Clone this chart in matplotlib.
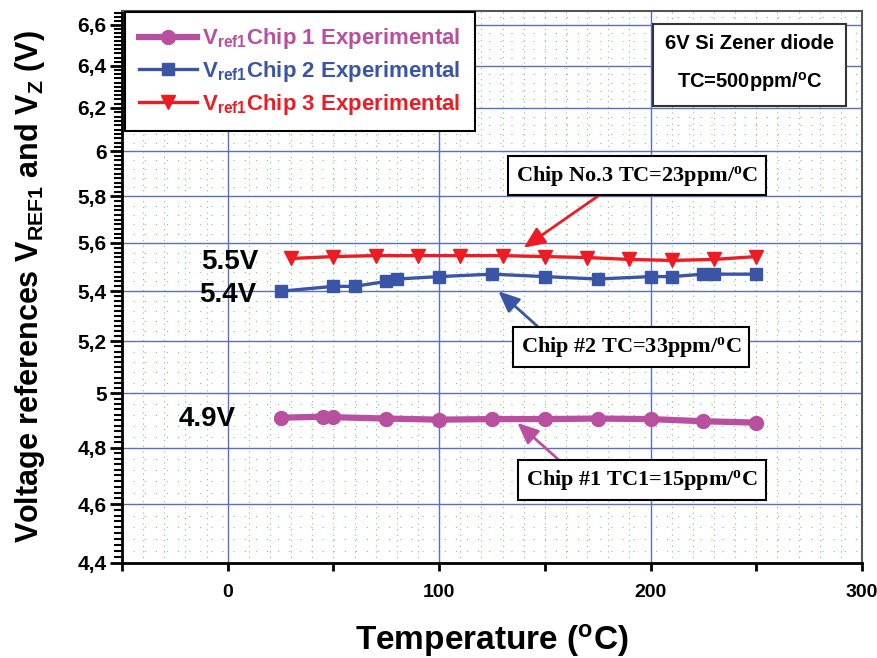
import numpy as np
import matplotlib
matplotlib.use('Agg')
import matplotlib.pyplot as plt
from matplotlib import font_manager
from matplotlib.ticker import FixedLocator, FuncFormatter, NullFormatter, MultipleLocator

# data
t_chip1 = [25, 45, 50, 75, 100, 125, 150, 175, 200, 225, 250]
v_chip1 = [4.909, 4.913, 4.911, 4.906, 4.902, 4.904, 4.904, 4.906, 4.904, 4.896, 4.891]

t_chip2 = [25, 50, 60, 75, 80, 100, 125, 150, 175, 200, 210, 225, 230, 250]
v_chip2 = [5.40, 5.42, 5.42, 5.44, 5.45, 5.46, 5.47, 5.46, 5.45, 5.46, 5.46, 5.47, 5.47, 5.47]

t_chip3 = [30, 50, 70, 90, 110, 130, 150, 170, 190, 210, 230, 250]
v_chip3 = [5.535, 5.543, 5.547, 5.547, 5.547, 5.547, 5.543, 5.539, 5.531, 5.527, 5.531, 5.543]

y_ticks = [4.4, 4.6, 4.8, 5.0, 5.2, 5.4, 5.6, 5.8, 6.0, 6.2, 6.4, 6.6]

pink = '#b94f9f'
blue = '#3b55a6'
red = '#ed1c24'

names = {f.name for f in font_manager.fontManager.ttflist}
narrow = 'Liberation Sans Narrow' if 'Liberation Sans Narrow' in names else 'Liberation Sans'
plt.rcParams['font.family'] = ['Liberation Sans', 'DejaVu Sans']
plt.rcParams['font.weight'] = 'bold'

fig = plt.figure(figsize=(8.77, 6.58), dpi=100)
ax = fig.add_axes([0.1391, 0.1444, 0.8438, 0.8389])
ax.set_yscale('log')
ax.set_xlim(-50, 300)
ax.set_ylim(4.4, 6.67)

# grid: green dotted mesh + blue major lines
for x in np.arange(-50, 301, 10):
    ax.axvline(x, color='#7fcc7f', lw=0.8, ls=(0, (1, 4)), zorder=0)
for y in np.arange(4.44, 6.66, 0.04):
    ax.axhline(y, color='#7fcc7f', lw=0.8, ls=(0, (1, 9)), zorder=0)
for x in [0, 100, 200]:
    ax.axvline(x, color='#5a6fc0', lw=1.0, zorder=0.5)
for y in y_ticks[1:]:
    ax.axhline(y, color='#5a6fc0', lw=1.0, zorder=0.5)

ax.plot(t_chip1, v_chip1, '-o', color=pink, lw=4.5, ms=10,
        label=r'$\mathregular{V_{ref1}}$Chip 1 Experimental', zorder=3)
ax.plot(t_chip2, v_chip2, '-s', color=blue, lw=2.4, ms=8.5,
        label=r'$\mathregular{V_{ref1}}$Chip 2 Experimental', zorder=3)
ax.plot(t_chip3, v_chip3, '-v', color=red, lw=2.4, ms=10.5,
        label=r'$\mathregular{V_{ref1}}$Chip 3 Experimental', zorder=3)

# axes styling
ax.yaxis.set_major_locator(FixedLocator(y_ticks))
ax.yaxis.set_minor_locator(FixedLocator(np.arange(4.4, 6.67, 0.02)))
def yfmt(v, pos):
    s = f'{v:.1f}'
    if s.endswith('.0'):
        s = s[:-2]
    return s.replace('.', ',')
ax.yaxis.set_major_formatter(FuncFormatter(yfmt))
ax.yaxis.set_minor_formatter(NullFormatter())
ax.xaxis.set_major_locator(MultipleLocator(50))
ax.xaxis.set_major_formatter(FuncFormatter(lambda v, p: f'{int(v)}' if v % 100 == 0 else ''))

ax.tick_params(axis='y', which='major', direction='out', length=9, width=2, pad=2, labelsize=15)
ax.tick_params(axis='y', which='minor', direction='out', length=5.5, width=1.5)
ax.tick_params(axis='x', which='major', direction='out', length=6, width=2, pad=9, labelsize=14)
for lab in ax.get_xticklabels():
    lab.set_fontfamily(narrow)
    lab.set_fontweight('bold')
for lab in ax.get_yticklabels():
    lab.set_fontweight('bold')

for s in ['left', 'bottom']:
    ax.spines[s].set_linewidth(2)
    ax.spines[s].set_color('black')
for s in ['top', 'right']:
    ax.spines[s].set_linewidth(1.5)
    ax.spines[s].set_color('#555555')

ax.set_xlabel(r'Temperature ($\mathregular{^o}$C)', fontsize=24, fontweight='bold',
              fontfamily=narrow, labelpad=15)
ax.set_ylabel(r'Voltage references $\mathregular{V_{REF1}}$ and $\mathregular{V_Z}$ (V)',
              fontsize=22, fontweight='bold', labelpad=22)

leg = ax.legend(loc='upper left', bbox_to_anchor=(0.1425, 0.982), bbox_transform=fig.transFigure,
                borderaxespad=0, fancybox=False, edgecolor='black', framealpha=1,
                fontsize=16, handlelength=2.6, handletextpad=0.2, labelspacing=0.35,
                borderpad=0.65)
leg.get_frame().set_linewidth(1.5)
for txt, c in zip(leg.get_texts(), [pink, blue, red]):
    txt.set_color(c)
    txt.set_fontweight('bold')
leg.set_zorder(5)

# voltage labels
ax.text(1, 5.52, '5.5V', fontsize=20, fontweight='bold', ha='center', va='center', zorder=4)
ax.text(0, 5.385, '5.4V', fontsize=20, fontweight='bold', ha='center', va='center', zorder=4)
ax.text(-9.5, 4.906, '4.9V', fontsize=20, fontweight='bold', ha='center', va='center', zorder=4)

# info box
fig.text(0.855, 0.903, '6V Si Zener diode\n\n' + r'TC=500ppm/$\mathregular{^o}$C',
         fontsize=14.5, fontweight='bold', ha='center', va='center', linespacing=0.95,
         bbox=dict(boxstyle='square,pad=0.6', fc='white', ec='#333333', lw=1.5), zorder=6)

# annotations with arrows
serif = ['Liberation Serif', 'DejaVu Serif']
ann = [
    ('Chip No.3 TC=23ppm/$\\mathregular{^o}$C', (140, 5.58), (0.726, 0.733), red, (0.39, 0)),
    ('Chip #2 TC=33ppm/$\\mathregular{^o}$C', (128, 5.40), (0.7195, 0.4726), blue, (0.12, 1)),
    ('Chip #1 TC1=15ppm/$\\mathregular{^o}$C', (137, 4.89), (0.732, 0.2705), pink, (0.18, 1)),
]
for txt, xy, xyt, c, rp in ann:
    ax.annotate(txt, xy=xy, xytext=xyt, textcoords='figure fraction',
                fontsize=16, fontweight='bold', fontfamily=serif, ha='center', va='center',
                bbox=dict(boxstyle='square,pad=0.35', fc='white', ec='black', lw=1.5),
                arrowprops=dict(arrowstyle='-|>,head_length=0.8,head_width=0.35', color=c,
                                lw=2, relpos=rp, shrinkA=0, shrinkB=0),
                zorder=6)

fig.savefig('out.png', dpi=100)
